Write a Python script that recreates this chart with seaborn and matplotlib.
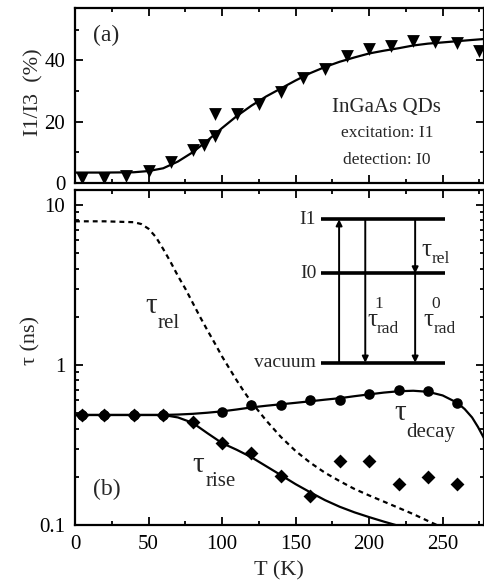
import matplotlib
matplotlib.use("Agg")
import matplotlib.pyplot as plt
import seaborn as sns
from matplotlib.ticker import MultipleLocator, LogLocator, NullFormatter

# panel (a): I1/I3 ratio
T_a = [5, 20, 35, 50, 65, 80, 87.5, 95, 95, 110, 125, 140, 155, 170, 185, 200, 215, 230, 245, 260, 275]
ratio_a = [1.5, 1.5, 2.3, 4.0, 6.9, 10.6, 12.3, 15.2, 22.5, 22.5, 25.7, 29.8, 34.1, 37.0, 41.3, 43.5, 44.5, 46.4, 45.9, 45.6, 43.1]
T_fit_a = [0, 20, 40, 50, 60, 70, 80, 90, 100, 110, 120, 130, 140, 150, 160, 170, 180, 190, 200,
           210, 220, 230, 240, 250, 260, 270, 278]
fit_a = [3.4, 3.4, 3.5, 3.9, 4.8, 7.0, 10.0, 13.8, 17.9, 21.8, 25.2, 28.2, 30.8, 33.4, 35.8, 37.8, 39.5,
         40.9, 42.2, 43.1, 43.9, 44.8, 45.4, 45.8, 46.2, 46.6, 46.9]

# panel (b): time constants
T_decay = [5, 20, 40, 60, 100, 120, 140, 160, 180, 200, 220, 240, 260]
tau_decay = [0.487, 0.487, 0.487, 0.487, 0.51, 0.56, 0.565, 0.60, 0.60, 0.66, 0.70, 0.685, 0.58]
T_rise = [5, 20, 40, 60, 80, 100, 120, 140, 160, 180, 200, 220, 240, 260]
tau_rise = [0.487, 0.487, 0.487, 0.487, 0.442, 0.324, 0.28, 0.202, 0.152, 0.252, 0.252, 0.18, 0.2, 0.18]

T_fit_decay = [0, 20, 40, 60, 70, 80, 90, 100, 110, 120, 130, 140, 150, 160, 170, 180, 190, 200, 210,
               220, 230, 240, 250, 260, 265, 270, 274, 278]
fit_decay = [0.487, 0.487, 0.487, 0.487, 0.49, 0.495, 0.503, 0.513, 0.527, 0.543, 0.556, 0.568, 0.58,
             0.593, 0.607, 0.62, 0.638, 0.655, 0.672, 0.685, 0.69, 0.68, 0.645, 0.58, 0.53, 0.47, 0.41, 0.35]
T_fit_rise = [0, 20, 40, 60, 70, 80, 90, 100, 110, 120, 130, 140, 150, 160, 170, 180, 190, 200, 210, 218]
fit_rise = [0.487, 0.487, 0.487, 0.487, 0.47, 0.435, 0.375, 0.325, 0.295, 0.265, 0.233, 0.205, 0.18,
            0.16, 0.143, 0.13, 0.12, 0.112, 0.105, 0.1]
T_fit_rel = [0, 20, 40, 45, 50, 55, 60, 65, 70, 75, 80, 85, 90, 95, 100, 105, 110, 115, 120, 130, 140,
             150, 160, 170, 180, 190, 200, 210, 220, 230, 240, 245, 250]
fit_rel = [7.9, 7.9, 7.8, 7.6, 7.1, 6.3, 5.3, 4.4, 3.6, 3.0, 2.45, 2.0, 1.65, 1.37, 1.13, 0.95, 0.80,
           0.68, 0.585, 0.45, 0.355, 0.29, 0.245, 0.212, 0.188, 0.168, 0.153, 0.14, 0.128, 0.117, 0.106,
           0.101, 0.097]

sns.set_style("ticks")
plt.rcParams['font.family'] = ['Liberation Serif', 'DejaVu Serif']
plt.rcParams['axes.linewidth'] = 1.6


def style_axis(ax):
    ax.tick_params(which='both', direction='in', top=True, right=True, width=1.3, labelsize=15,
                   color='k', labelcolor='k', pad=7)
    ax.tick_params(which='major', length=6)
    ax.tick_params(which='minor', length=3)
    for s in ax.spines.values():
        s.set_color('k')


def tau_text(ax, x, y, sub, sup=None, size=21, subsize=15, dx=9, dy=-11, supdy=12):
    # tau with a lowered subscript (and optional superscript), offsets in points
    ax.text(x, y, 'τ', transform=ax.transAxes, fontsize=size, va='baseline')
    ax.annotate(sub, xy=(x, y), xycoords='axes fraction', xytext=(dx, dy),
                textcoords='offset points', fontsize=subsize, va='baseline')
    if sup is not None:
        ax.annotate(sup, xy=(x, y), xycoords='axes fraction', xytext=(dx - 1.5, supdy),
                    textcoords='offset points', fontsize=subsize, va='baseline')


fig = plt.figure(figsize=(4.85, 5.86), dpi=100)
ax1 = fig.add_axes([0.1546, 0.6877, 0.843, 0.2986])
ax2 = fig.add_axes([0.1546, 0.1041, 0.843, 0.5717])

# (a)
sns.lineplot(x=T_fit_a, y=fit_a, ax=ax1, color='k', lw=1.6)
sns.scatterplot(x=T_a, y=ratio_a, ax=ax1, marker='v', s=85, color='k', edgecolor='k', linewidth=0)
ax1.set_xlim(0, 278)
ax1.set_ylim(0, 57)
ax1.xaxis.set_major_locator(MultipleLocator(50))
ax1.xaxis.set_minor_locator(MultipleLocator(25))
ax1.yaxis.set_major_locator(MultipleLocator(20))
ax1.yaxis.set_minor_locator(MultipleLocator(10))
ax1.set_xticklabels([])
style_axis(ax1)
ax1.set_ylabel('I1/I3  (%)', fontsize=16)
ax1.yaxis.set_label_coords(-0.078, 0.52)
ax1.text(0.044, 0.846, '(a)', transform=ax1.transAxes, fontsize=17, va='center')
ax1.text(0.763, 0.434, 'InGaAs QDs', transform=ax1.transAxes, fontsize=15, ha='center', va='center')
ax1.text(0.763, 0.286, 'excitation: I1', transform=ax1.transAxes, fontsize=12.5, ha='center', va='center')
ax1.text(0.763, 0.131, 'detection: I0', transform=ax1.transAxes, fontsize=12.5, ha='center', va='center')

# (b)
sns.lineplot(x=T_fit_rel, y=fit_rel, ax=ax2, color='k', lw=1.6, linestyle=(0, (2.2, 1.8)))
sns.lineplot(x=T_fit_decay, y=fit_decay, ax=ax2, color='k', lw=1.6)
sns.lineplot(x=T_fit_rise, y=fit_rise, ax=ax2, color='k', lw=1.6)
sns.scatterplot(x=T_rise, y=tau_rise, ax=ax2, marker='D', s=50, color='k', edgecolor='k', linewidth=0)
sns.scatterplot(x=T_decay, y=tau_decay, ax=ax2, marker='o', s=58, color='k', edgecolor='k', linewidth=0)
ax2.set_yscale('log')
ax2.set_xlim(0, 278)
ax2.set_ylim(0.1, 12.4)
ax2.xaxis.set_major_locator(MultipleLocator(50))
ax2.xaxis.set_minor_locator(MultipleLocator(25))
ax2.yaxis.set_minor_locator(LogLocator(base=10, subs=range(2, 10)))
ax2.yaxis.set_minor_formatter(NullFormatter())
ax2.set_yticks([0.1, 1, 10], labels=['0.1', '1', '10'])
style_axis(ax2)
ax2.set_xlabel('T (K)', fontsize=16)
ax2.xaxis.set_label_coords(0.5, -0.108)
ax2.set_ylabel('τ (ns)', fontsize=16)
ax2.yaxis.set_label_coords(-0.085, 0.55)

ax2.text(0.044, 0.105, '(b)', transform=ax2.transAxes, fontsize=17, va='center')
tau_text(ax2, 0.171, 0.633, 'rel')
tau_text(ax2, 0.78, 0.313, 'decay', dy=-12.5)
tau_text(ax2, 0.288, 0.158, 'rise', dy=-10)

# energy-level inset
x0, x1 = 0.602, 0.905
levels = {'I1': 0.9125, 'I0': 0.751, 'vacuum': 0.4845}
for name, y in levels.items():
    ax2.plot([x0, x1], [y, y], transform=ax2.transAxes, color='k', lw=2.6, solid_capstyle='butt')
    ax2.text(x0 - 0.012, y, name, transform=ax2.transAxes, fontsize=14, ha='right', va='center')

arrow = dict(arrowstyle='-|>', color='k', lw=1.4, mutation_scale=9, shrinkA=0, shrinkB=0)
ax2.annotate('', xy=(0.646, levels['I1']), xytext=(0.646, levels['vacuum']),
             xycoords='axes fraction', textcoords='axes fraction', arrowprops=arrow)
ax2.annotate('', xy=(0.71, levels['vacuum']), xytext=(0.71, levels['I1']),
             xycoords='axes fraction', textcoords='axes fraction', arrowprops=arrow)
ax2.annotate('', xy=(0.832, levels['I0']), xytext=(0.832, levels['I1']),
             xycoords='axes fraction', textcoords='axes fraction', arrowprops=arrow)
ax2.annotate('', xy=(0.832, levels['vacuum']), xytext=(0.832, levels['I0']),
             xycoords='axes fraction', textcoords='axes fraction', arrowprops=arrow)
tau_text(ax2, 0.848, 0.803, 'rel', size=18, subsize=12.5, dx=7.5, dy=-5)
tau_text(ax2, 0.715, 0.595, 'rad', sup='1', size=18, subsize=12.5, dx=7, dy=-5, supdy=13)
tau_text(ax2, 0.853, 0.595, 'rad', sup='0', size=18, subsize=12.5, dx=7, dy=-5, supdy=13)

fig.savefig('out.png', dpi=100)
